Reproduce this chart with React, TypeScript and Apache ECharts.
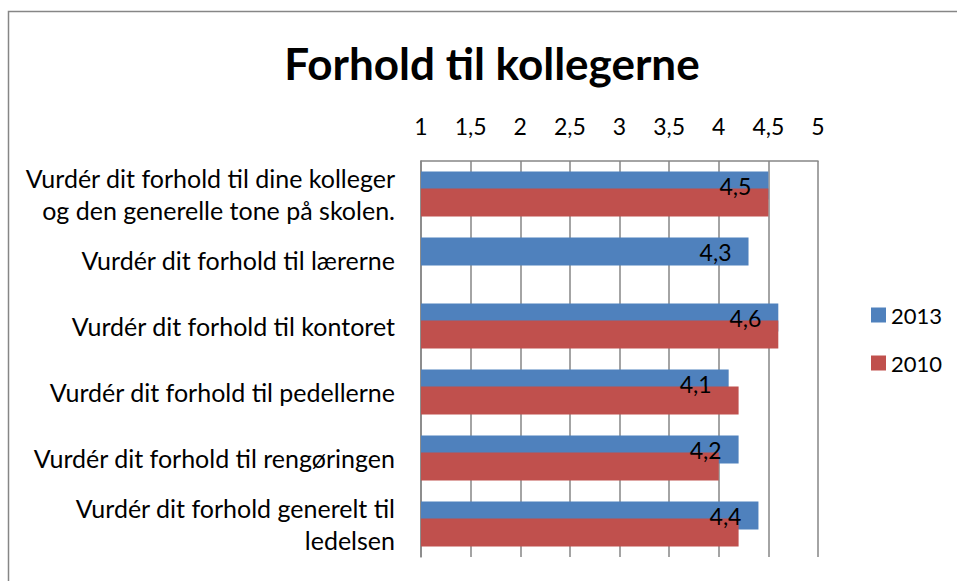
import React, { useEffect, useRef } from "react";
import * as echarts from "echarts";

const categories = [
  "Vurdér dit forhold til dine kolleger\nog den generelle tone på skolen.",
  "Vurdér dit forhold til lærerne",
  "Vurdér dit forhold til kontoret",
  "Vurdér dit forhold til pedellerne",
  "Vurdér dit forhold til rengøringen",
  "Vurdér dit forhold generelt til\nledelsen",
];
const values2013 = [4.5, 4.3, 4.6, 4.1, 4.2, 4.4];
const values2010: (number | null)[] = [4.5, null, 4.6, 4.2, 4.0, 4.2];
const seriesNames = ["2013", "2010"];
const axisMin = 1;
const axisMax = 5;
const axisStep = 0.5;

const FONT = "Lato";

export default function App() {
  const ref = useRef<HTMLDivElement>(null);
  useEffect(() => {
    if (!ref.current) return;
    const chart = echarts.init(ref.current, undefined, { renderer: "svg" });
    const fmt = (v: number) => String(v).replace(".", ",");
    chart.setOption({
      animation: false,
      backgroundColor: "#ffffff",
      textStyle: { fontFamily: FONT },
      title: {
        text: "Forhold til kollegerne",
        left: 487,
        top: 36,
        textAlign: "center",
        textStyle: { fontFamily: FONT, fontWeight: "bold", fontSize: 44, color: "#000" },
      },
      graphic: [
        {
          type: "rect",
          shape: { x: 8.5, y: 11.5, width: 1000, height: 1000 },
          style: { fill: "none", stroke: "#868686", lineWidth: 1.5 },
          silent: true,
        },
      ],
      legend: {
        orient: "vertical",
        left: 866,
        top: 299,
        itemWidth: 15,
        itemHeight: 15,
        itemGap: 26,
        icon: "rect",
        data: seriesNames,
        textStyle: { fontFamily: FONT, fontSize: 22, color: "#000" },
      },
      grid: { left: 421, right: 139, top: 161, bottom: 24, containLabel: false },
      xAxis: {
        type: "value",
        position: "top",
        min: axisMin,
        max: axisMax,
        interval: axisStep,
        axisLine: { show: true, lineStyle: { color: "#868686", width: 1.5 } },
        axisTick: { show: false },
        splitLine: { show: true, lineStyle: { color: "#868686", width: 1.5 } },
        axisLabel: {
          formatter: fmt,
          fontFamily: FONT,
          fontSize: 23,
          color: "#000",
          margin: 24,
        },
      },
      yAxis: {
        type: "category",
        inverse: true,
        data: categories,
        axisLine: { show: true, lineStyle: { color: "#868686", width: 1.5 } },
        axisTick: { show: false },
        splitLine: { show: false },
        axisLabel: {
          fontFamily: FONT,
          fontSize: 25,
          lineHeight: 32,
          color: "#000",
          margin: 26,
          align: "right",
        },
      },
      series: [
        {
          name: seriesNames[0],
          type: "bar",
          data: values2013,
          barWidth: 28,
          barGap: "-40%",
          itemStyle: { color: "#4F81BD" },
          label: {
            show: true,
            position: "insideRight",
            distance: 17,
            formatter: (p: any) => fmt(p.value),
            fontFamily: FONT,
            fontSize: 23,
            color: "#000",
          },
        },
        {
          name: seriesNames[1],
          type: "bar",
          data: values2010,
          barWidth: 28,
          barGap: "-40%",
          itemStyle: { color: "#C0504D" },
        },
      ],
    });
    return () => chart.dispose();
  }, []);
  return (
    <div
      ref={ref}
      style={{ position: "absolute", left: 0, top: 0, width: 957, height: 581 }}
    />
  );
}
